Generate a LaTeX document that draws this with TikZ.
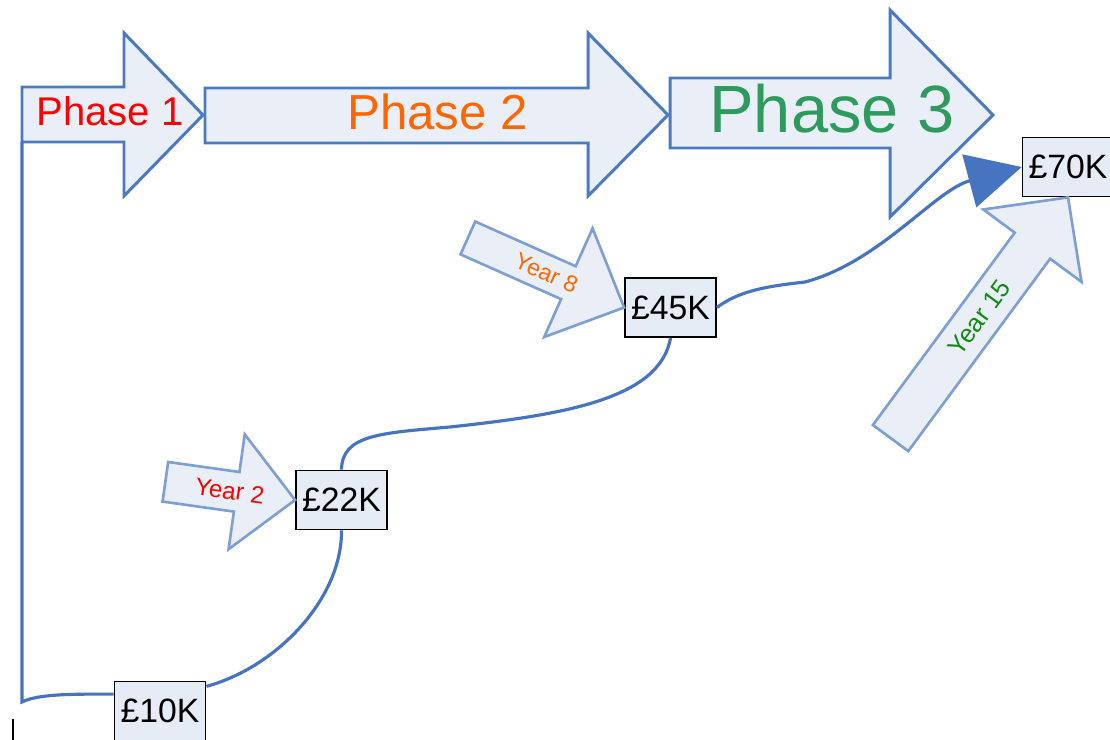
\documentclass[tikz,border=0pt]{standalone}
\usepackage{fontspec}
\setmainfont{Liberation Sans}
\usetikzlibrary{arrows.meta}

\definecolor{edgeblue}{HTML}{4A7AC2}
\definecolor{paleblue}{HTML}{EAEFF7}
\definecolor{boxblue}{HTML}{E6ECF6}
\definecolor{softblue}{HTML}{7E9ED6}
\definecolor{linkblue}{HTML}{4674C1}
\definecolor{phaseorange}{HTML}{FF6600}
\definecolor{phasegreen}{HTML}{2E9A5E}
\definecolor{yeargreen}{HTML}{118A11}

\begin{document}
\begin{tikzpicture}[x=0.01cm,y=-0.01cm,
    blockarrow/.style={draw=edgeblue,fill=paleblue,line width=0.85pt},
    yeararrow/.style={draw=softblue,fill=paleblue,line width=0.75pt},
    valbox/.style={draw=black,fill=boxblue,line width=0.5pt,minimum width=0.91cm,
      minimum height=0.59cm,inner sep=0pt,font=\fontsize{9.6}{12}\selectfont},
    link/.style={draw=linkblue,line width=0.9pt}]
    \useasboundingbox (0,0) rectangle (1110,740);
    % the three phases
    \draw[blockarrow] (22,87) -- (124,87) -- (124,33) -- (203,115) -- (124,196) -- (124,142) -- (22,142) -- cycle;
    \draw[blockarrow] (205,88) -- (588,88) -- (588,33) -- (668,115) -- (588,196) -- (588,143) -- (205,143) -- cycle;
    \draw[blockarrow] (670,78) -- (890,78) -- (890,10) -- (993,115) -- (890,217) -- (890,148) -- (670,148) -- cycle;
    \node[anchor=base,text=red,font=\fontsize{11.4}{13}\selectfont] (ph1) at (110,126) {Phase 1};
    \node[anchor=base,text=phaseorange,font=\fontsize{14}{16}\selectfont] (ph2) at (437.5,130) {Phase 2};
    \node[anchor=base,text=phasegreen,font=\fontsize{19}{22}\selectfont] (ph3) at (832,133) {Phase 3};
    % salary boxes
    \node[valbox] (k10) at (160,711) {£10K};
    \node[valbox] (k22) at (341.5,500) {£22K};
    \node[valbox] (k45) at (670.5,307.5) {£45K};
    \node[valbox] (k70) at (1068,167) {£70K};
    % year markers
    \begin{scope}[shift={(k22.west)},rotate=-8]
      \draw[yeararrow] (0,0) -- (-59,-58) -- (-59,-20) -- (-131,-20) -- (-131,20) -- (-59,20) -- (-59,58) -- cycle;
      \node[text=red,font=\fontsize{6.9}{8}\selectfont,rotate=-8] (y2) at (-66,0) {Year 2};
    \end{scope}
    \begin{scope}[shift={(k45.west)},rotate=-24]
      \draw[yeararrow] (0,0) -- (-61,-59.5) -- (-61,-18) -- (-171,-18) -- (-171,18) -- (-61,18) -- (-61,59.5) -- cycle;
      \node[text=phaseorange,font=\fontsize{6.6}{8}\selectfont,rotate=-24] (y8) at (-85,0) {Year 8};
    \end{scope}
    \begin{scope}[shift={(k70.south)},rotate=53.6]
      \draw[yeararrow] (0,0) -- (-60,-61) -- (-60,-22) -- (-299,-22) -- (-299,22) -- (-60,22) -- (-60,61) -- cycle;
      \node[text=yeargreen,font=\fontsize{7.2}{8}\selectfont,rotate=53.6] (y15) at (-149,0) {Year 15};
    \end{scope}
    % growth line
    \coordinate (top) at (22,142);
    \coordinate (corner) at (22,702);
    \draw[link] (top) -- (corner) .. controls (38,694) and (70,694) .. (k10.160);
    \draw[link] (k10.28) .. controls (275,668) and (342,600) .. (k22.south);
    \draw[link] (k22.north) .. controls (342,435) and (380,433) .. (450,427)
      .. controls (560,415) and (660,400) .. (k45.south);
    \draw[link,-{Triangle[length=15.4pt,width=15.4pt]}] (k45.east) .. controls (740,290) and (770,286) .. (805,282)
      .. controls (880,262) and (935,190) .. (k70.west);
    \draw[line width=0.8pt] (13,719) -- (13,745);
  \end{tikzpicture}
\end{document}
